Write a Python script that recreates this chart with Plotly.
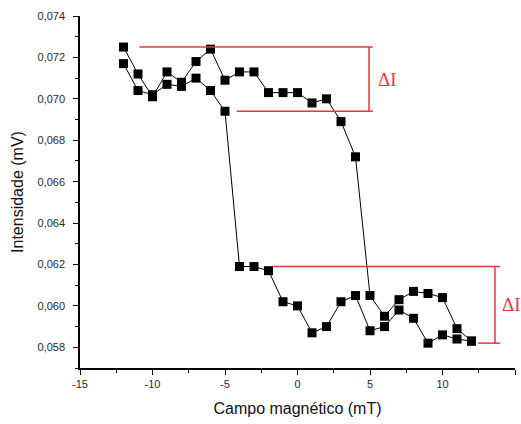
import plotly.graph_objects as go

# Magnetic field sweep (mT)
campo = list(range(-12, 13))

# Branch that stays high until the positive switching field
ramo_a = [0.0725, 0.0712, 0.0701, 0.0713, 0.0708, 0.0718, 0.0724, 0.0709, 0.0713,
          0.0713, 0.0703, 0.0703, 0.0703, 0.0698, 0.0700, 0.0689, 0.0672, 0.0605,
          0.0595, 0.0603, 0.0607, 0.0606, 0.0604, 0.0589, 0.0583]

# Branch that drops at the negative switching field
ramo_b = [0.0717, 0.0704, 0.0702, 0.0707, 0.0706, 0.0710, 0.0704, 0.0694, 0.0619,
          0.0619, 0.0617, 0.0602, 0.0600, 0.0587, 0.0590, 0.0602, 0.0605, 0.0588,
          0.0590, 0.0598, 0.0594, 0.0582, 0.0586, 0.0584, 0.0583]

x_ticks = [-15, -10, -5, 0, 5, 10, 15]
y_ticks = [0.058, 0.060, 0.062, 0.064, 0.066, 0.068, 0.070, 0.072, 0.074]

# Levels bracketed by the ΔI markers
alto_sup = max(ramo_a)
alto_inf = ramo_b[campo.index(-5)]
baixo_sup = ramo_b[campo.index(-4)]
baixo_inf = min(ramo_b)

VERMELHO = "#e8363f"
fig = go.Figure()

marker = dict(symbol="square", size=9, color="black")
line = dict(color="black", width=1)
for y in (ramo_a, ramo_b):
    fig.add_trace(go.Scatter(x=campo, y=y, mode="lines+markers",
                             marker=marker, line=line, showlegend=False,
                             cliponaxis=False))

def seg(x0, y0, x1, y1):
    fig.add_shape(type="line", x0=x0, y0=y0, x1=x1, y1=y1, xref="x", yref="y",
                  line=dict(color=VERMELHO, width=1.5))

# upper bracket
seg(-10.9, alto_sup, 5.2, alto_sup)
seg(-4.2, alto_inf, 5.2, alto_inf)
seg(4.93, alto_sup, 4.93, alto_inf)
# lower bracket
seg(-1.7, baixo_sup, 13.97, baixo_sup)
seg(12.45, baixo_inf, 13.97, baixo_inf)
seg(13.62, baixo_sup, 13.62, baixo_inf)

for xa, ya in ((6.2, (alto_sup + alto_inf) / 2), (14.75, (baixo_sup + baixo_inf) / 2)):
    fig.add_annotation(x=xa, y=ya, xref="x", yref="y", text="ΔI", showarrow=False,
                       font=dict(family="Liberation Serif", size=19, color=VERMELHO))

axis_font = dict(family="Liberation Sans, Arial", size=11, color="#2a2a2a")
title_font = dict(family="Liberation Sans, Arial", size=16, color="#111")

fig.update_xaxes(range=[-15, 15], tickvals=x_ticks, ticktext=[str(v) for v in x_ticks],
                 ticks="outside", ticklen=5, tickwidth=1.2, tickcolor="black",
                 showline=True, linecolor="black", linewidth=1.5, showgrid=False,
                 zeroline=False, tickfont=axis_font,
                 minor=dict(dtick=2.5, tick0=-15, ticks="outside", ticklen=3,
                            tickcolor="black", showgrid=False),
                 title=dict(text="Campo magnético (mT)", font=title_font, standoff=14))
fig.update_yaxes(range=[0.057, 0.074], tickvals=y_ticks,
                 ticktext=[f"{v:.3f}".replace(".", ",") for v in y_ticks],
                 ticks="outside", ticklen=5, tickwidth=1.2, tickcolor="black",
                 showline=True, linecolor="black", linewidth=1.5, showgrid=False,
                 zeroline=False, tickfont=axis_font, ticklabelstandoff=6,
                 minor=dict(dtick=0.001, tick0=0.057, ticks="outside", ticklen=3,
                            tickcolor="black", showgrid=False),
                 title=dict(text="Intensidade (mV)", font=title_font, standoff=10))

fig.update_layout(width=521, height=424, margin=dict(l=80, r=6, t=16, b=56),
                  plot_bgcolor="white", paper_bgcolor="white")

fig.write_html("out.html")
